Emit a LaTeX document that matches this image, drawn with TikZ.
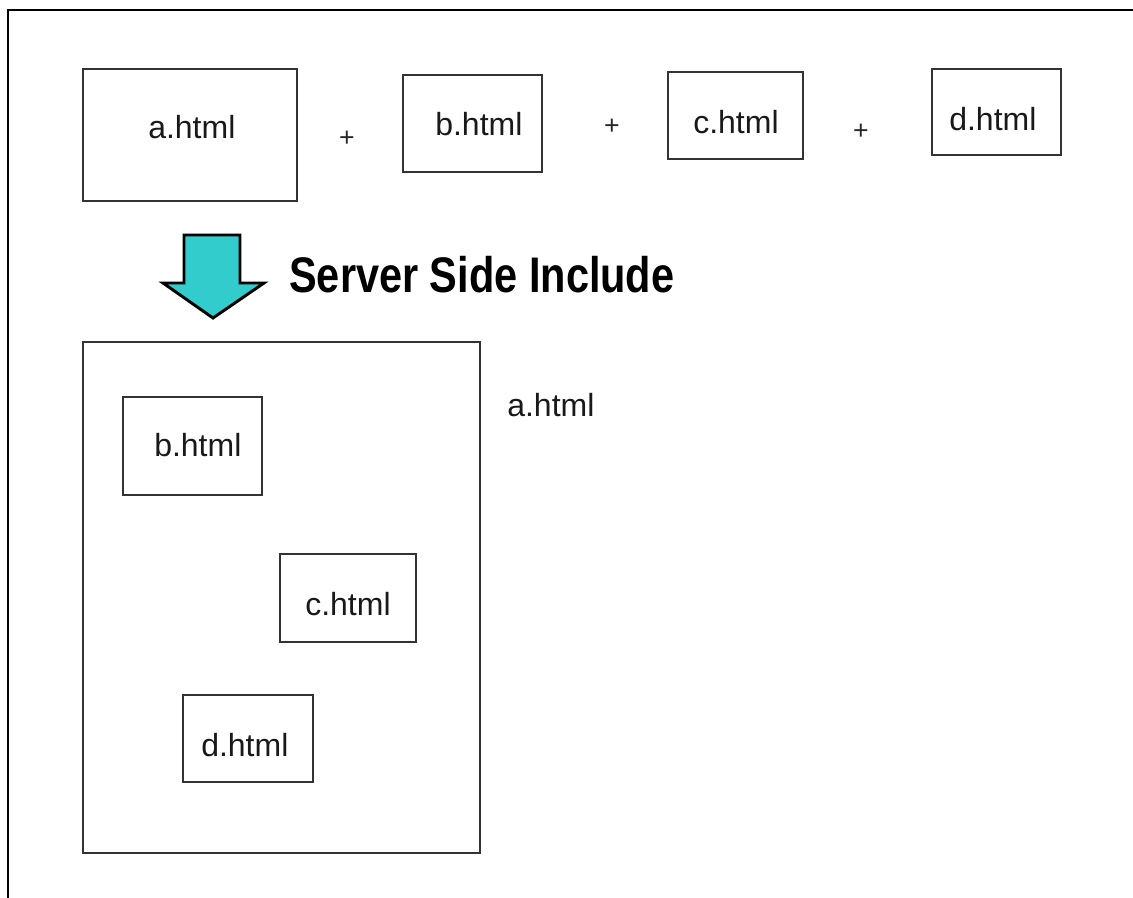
\documentclass[tikz,border=0pt]{standalone}
\usepackage{fontspec}
\setmainfont{Liberation Sans}
\definecolor{arrowfill}{HTML}{33CCCC}
\newcommand\boxnode[5]{\node[box,minimum width={(#4-#2)*0.75pt},minimum height={(#5-#3)*0.75pt}] (#1) at ({(#2+#4)/2},{(#3+#5)/2}) {};}
\begin{document}
\begin{tikzpicture}[x=0.75pt,y=-0.75pt,
  box/.style={draw=black!80,line width=1.5pt,inner sep=0pt,outer sep=0pt},
  lbl/.style={anchor=base west,inner sep=0pt,font=\fontsize{24}{28}\selectfont,text=black!90},
  plussign/.style={inner sep=0pt,font=\fontsize{20}{24}\selectfont,text=black!85},
  frameline/.style={line width=2pt,black},
  bigarrow/.style={fill=arrowfill,draw=black,line width=2.2pt,line join=miter},
  title/.style={anchor=base west,inner sep=0pt,font=\fontsize{37.5}{42}\selectfont\bfseries}]
\useasboundingbox (0,0) rectangle (1133,898);
\draw[frameline] (8,898) -- (8,10) -- (1133,10);
% top row
\boxnode{aTop}{83}{69}{297}{201}
\boxnode{bTop}{403}{75}{542}{172}
\boxnode{cTop}{668}{72}{803}{159}
\boxnode{dTop}{932}{69}{1061}{155}
\node[lbl] (aTopL) at (148,139) {a.html};
\node[lbl] (bTopL) at (435,136) {b.html};
\node[lbl] (cTopL) at (693,134) {c.html};
\node[lbl] (dTopL) at (949,131) {d.html};
\node[plussign] (p1) at (347,139) {+};
\node[plussign] (p2) at (612,127) {+};
\node[plussign] (p3) at (861,132) {+};
% arrow and title
\draw[bigarrow] (184,235) -- (240,235) -- (240,283) -- (264,283) -- (213,318) -- (163,283) -- (184,283) -- cycle;
\node[title] (ssi) at (289,293) {\scalebox{0.83}[1]{Server Side Include}};
% bottom
\boxnode{big}{83}{342}{480}{853}
\boxnode{bIn}{123}{397}{262}{495}
\boxnode{cIn}{280}{554}{416}{642}
\boxnode{dIn}{183}{695}{313}{782}
\node[lbl] (bInL) at (154,457) {b.html};
\node[lbl] (cInL) at (305,616) {c.html};
\node[lbl] (dInL) at (201,757) {d.html};
\node[lbl] (aOutL) at (507,417) {a.html};
\end{tikzpicture}
\end{document}
